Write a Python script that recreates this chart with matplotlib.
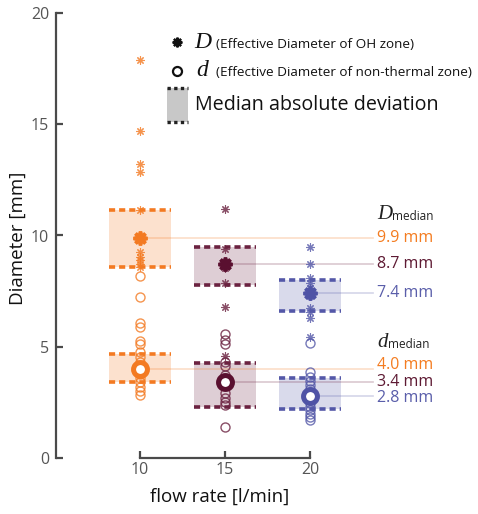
import numpy as np
import matplotlib
matplotlib.use("Agg")
import matplotlib.pyplot as plt
from matplotlib.patches import Rectangle
from matplotlib.lines import Line2D

# -----------------------------------------
# DATA
# -----------------------------------------
flow_rates = [10, 15, 20]

# D: effective diameter of OH zone [mm]
D_10 = [17.9, 14.7, 13.2, 12.85, 11.15, 9.9, 9.25, 9.05, 8.9, 8.72, 8.6]
D_15 = [11.2, 9.4, 8.8, 8.65, 8.55, 7.85, 6.8, 4.6]
D_20 = [9.48, 8.72, 8.1, 7.85, 7.64, 7.45, 7.3, 6.74, 6.56, 6.3, 5.44]

# d: effective diameter of non-thermal zone [mm]
d_10 = [8.2, 7.24, 6.06, 5.9, 5.26, 5.12, 4.76, 4.54, 4.31, 4.15, 4.0,
        3.9, 3.78, 3.6, 3.42, 3.19, 3.01, 2.83]
d_15 = [5.57, 5.3, 5.12, 4.3, 4.15, 3.73, 3.4, 2.92, 2.7, 2.52, 2.38, 1.39]
d_20 = [5.15, 3.87, 3.64, 3.48, 3.3, 3.1, 2.95, 2.8, 2.62, 2.45, 2.3,
        2.15, 2.0, 1.85, 1.7]

D_median = [9.9, 8.7, 7.4]
d_median = [4.0, 3.4, 2.8]

# median absolute deviation bands (low, high)
D_band = [(8.58, 11.15), (7.78, 9.48), (6.6, 8.0)]
d_band = [(3.42, 4.67), (2.29, 4.27), (2.2, 3.6)]

colors = ["#F37A22", "#6B2240", "#5458A8"]
dark_colors = ["#F37A22", "#5A1030", "#4F53A6"]
text_colors = ["#F47C20", "#5E1A33", "#5A5EAA"]

D_all = [D_10, D_15, D_20]
d_all = [d_10, d_15, d_20]

# -----------------------------------------
# FIGURE
# -----------------------------------------
plt.rcParams['font.family'] = ['Open Sans', 'DejaVu Sans']

W, H = 478, 514
fig = plt.figure(figsize=(W / 100, H / 100), dpi=100)
ax = fig.add_axes([56 / W, 56 / H, 422 / W, 445 / H])
ax.set_xlim(5.06, 29.88)
ax.set_ylim(0, 20)

asterisk = (8, 2, 0)
half_w = 1.8
label_x = 23.95

for i, x in enumerate(flow_rates):
    c = colors[i]
    # MAD bands
    for lo, hi in (D_band[i], d_band[i]):
        ax.add_patch(Rectangle((x - half_w, lo), 2 * half_w, hi - lo,
                               facecolor=c, alpha=0.22, lw=0, zorder=1))
        for yy in (lo, hi):
            ax.plot([x - half_w, x + half_w], [yy, yy], color=c, lw=2.6,
                    ls=(0, (1.7, 1.1)), zorder=2, solid_capstyle='butt')

    # median guide lines
    ax.plot([x, label_x - 0.25], [D_median[i]] * 2, color=c, lw=1.2,
            alpha=0.25, zorder=1.5)
    ax.plot([x, label_x - 0.25], [d_median[i]] * 2, color=c, lw=1.2,
            alpha=0.25, zorder=1.5)

    # individual measurements
    ax.plot([x] * len(D_all[i]), D_all[i], ls='none', marker=asterisk,
            ms=6, mew=0.8, color=c, alpha=0.8, zorder=3)
    ax.plot([x] * len(d_all[i]), d_all[i], ls='none', marker='o',
            ms=6.5, mew=1.0, mfc='none', mec=c, alpha=0.8, zorder=3)

    # medians
    ax.plot(x, D_median[i], marker=asterisk, ms=10, mew=2.6,
            color=dark_colors[i], zorder=4)
    ax.plot(x, d_median[i], marker='o', ms=10, mew=3.6, mfc='white',
            mec=dark_colors[i], zorder=4)

# median labels
D_nudge = [0.0, 0.0, 0.0]
d_nudge = [0.2, 0.0, -0.1]
for i in range(3):
    ax.text(label_x, D_median[i] + D_nudge[i], f"{D_median[i]:.1f} mm",
            color=text_colors[i], fontsize=11.5, va='center', ha='left')
    ax.text(label_x, d_median[i] + d_nudge[i], f"{d_median[i]:.1f} mm",
            color=text_colors[i], fontsize=11.5, va='center', ha='left')

for sym, yy in (("D", 10.95), ("d", 5.2)):
    ax.text(label_x, yy, sym, family=['Liberation Serif'], style='italic',
            fontsize=15, va='center', ha='left', color='#222222')
    ax.annotate("median", xy=(label_x, yy), xytext=(11 if sym == "D" else 8, -1.5),
                textcoords='offset points', fontsize=8.5, va='center',
                ha='left', color='#222222')

# -----------------------------------------
# AXES STYLE
# -----------------------------------------
for s in ('top', 'right'):
    ax.spines[s].set_visible(False)
ax.spines['left'].set_bounds(0, 20)
ax.spines['bottom'].set_bounds(10, 20)
for s in ('left', 'bottom'):
    ax.spines[s].set_color('#4a4a4a')
    ax.spines[s].set_linewidth(1.6)

ax.set_xticks(flow_rates)
ax.set_yticks([0, 5, 10, 15, 20])
ax.tick_params(direction='in', length=5, width=1.6, color='#4a4a4a',
               labelcolor='#555555', labelsize=11.5)
ax.tick_params(axis='y', pad=5)
ax.tick_params(axis='x', pad=3)

fig.text(18 / W, 1 - 238 / H, "Diameter [mm]", rotation=90, fontsize=13.5,
         va='center', ha='center', color='#111111')
fig.text(220 / W, 1 - 497 / H, "flow rate [l/min]", fontsize=13.5,
         va='center', ha='center', color='#111111')

# -----------------------------------------
# LEGEND
# -----------------------------------------
def fx(px):
    return px / W

def fy(py):
    return 1 - py / H

fig.add_artist(Line2D([fx(177)], [fy(42)], marker=asterisk, ms=7, mew=1.6,
                      color='#111111'))
fig.add_artist(Line2D([fx(177)], [fy(71)], marker='o', ms=6.5, mew=1.6,
                      mfc='none', mec='#111111'))
fig.text(fx(194), fy(42), "D", family=['Liberation Serif'], style='italic',
         fontsize=17, va='center', ha='left', color='#111111')
fig.text(fx(216), fy(44), "(Effective Diameter of OH zone)", fontsize=9.7,
         va='center', ha='left', color='#111111')
fig.text(fx(196), fy(71), "d", family=['Liberation Serif'], style='italic',
         fontsize=17, va='center', ha='left', color='#111111')
fig.text(fx(216), fy(73), "(Effective Diameter of non-thermal zone)",
         fontsize=9.7, va='center', ha='left', color='#111111')

fig.add_artist(Rectangle((fx(167), fy(122)), fx(21), 34 / H,
                         facecolor='#C8C8C8', lw=0))
for py in (88, 122):
    fig.add_artist(Line2D([fx(167), fx(188)], [fy(py), fy(py)], color='#222222',
                          lw=2.4, ls=(0, (1, 1))))
fig.text(fx(195), fy(105), "Median absolute deviation", fontsize=14.2,
         va='center', ha='left', color='#111111')

fig.savefig("out.png", dpi=100)
